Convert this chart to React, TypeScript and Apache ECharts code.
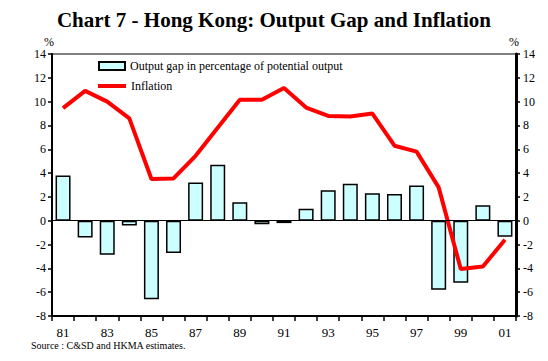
import React, { useEffect, useRef } from "react";
import * as echarts from "echarts";

const years = ["81","82","83","84","85","86","87","88","89","90","91","92","93","94","95","96","97","98","99","00","01"];
const outputGap = [3.8, -1.4, -2.85, -0.4, -6.6, -2.7, 3.2, 4.7, 1.55, -0.3, -0.2, 1.0, 2.55, 3.1, 2.3, 2.25, 2.95, -5.8, -5.2, 1.3, -1.35];
const inflation = [9.45, 10.9, 10.0, 8.6, 3.5, 3.55, 5.45, 7.8, 10.15, 10.15, 11.15, 9.5, 8.8, 8.75, 9.0, 6.3, 5.8, 2.8, -4.05, -3.85, -1.6];
const gapName = "Output gap in percentage of potential output";
const inflName = "Inflation";
const titleText = "Chart 7 - Hong Kong: Output Gap and Inflation";
const sourceText = "Source : C&SD and HKMA estimates.";

const FONT = "'Liberation Serif', 'Times New Roman', serif";

export default function App() {
  const ref = useRef<HTMLDivElement>(null);
  useEffect(() => {
    if (!ref.current) return;
    const chart = echarts.init(ref.current, undefined, { renderer: "svg" });
    const axisLabel = { fontFamily: FONT, fontSize: 12, color: "#000" };
    chart.setOption({
      animation: false,
      backgroundColor: "#fff",
      title: {
        text: titleText,
        left: "center",
        top: 4,
        textStyle: { fontFamily: FONT, fontSize: 21, fontWeight: "bold", color: "#000" },
      },
      grid: {
        left: 52, right: 32, top: 54, bottom: 45,
        show: true, borderColor: "#808080", borderWidth: 2, backgroundColor: "transparent",
      },
      legend: [
        {
          data: [{ name: gapName, icon: "rect" }],
          left: 98, top: 59, padding: 0, itemWidth: 26, itemHeight: 8,
          textStyle: { fontFamily: FONT, fontSize: 12, color: "#000", lineHeight: 14 },
        },
        {
          data: [{ name: inflName, icon: "rect", itemStyle: { color: "#FF0000", borderWidth: 0 } }],
          left: 98, top: 79, padding: 0, itemWidth: 28, itemHeight: 4,
          textStyle: { fontFamily: FONT, fontSize: 12, color: "#000", lineHeight: 14 },
        },
      ],
      xAxis: {
        type: "category",
        data: years,
        boundaryGap: true,
        axisLine: { show: true, onZero: false, lineStyle: { color: "#000", width: 2 } },
        axisTick: { show: true, interval: 0, length: 5, lineStyle: { color: "#000", width: 1.5 } },
        axisLabel: { ...axisLabel, fontSize: 13, interval: 1, margin: 10 },
        splitLine: { show: false },
      },
      yAxis: [
        {
          type: "value", min: -8, max: 14, interval: 2, position: "left",
          axisLine: { show: true, lineStyle: { color: "#000", width: 2 } },
          axisTick: { show: true, length: 4, lineStyle: { color: "#000", width: 1.5 } },
          axisLabel: { ...axisLabel, margin: 6 },
          splitLine: { show: false },
        },
        {
          type: "value", min: -8, max: 14, interval: 2, position: "right",
          axisLine: { show: true, lineStyle: { color: "#000", width: 3 } },
          axisTick: { show: true, length: 4, lineStyle: { color: "#000", width: 1.5 } },
          axisLabel: { ...axisLabel, margin: 7 },
          splitLine: { show: false },
        },
      ],
      graphic: [
        { type: "text", left: 44, top: 36, style: { text: "%", font: `12px ${FONT}`, fill: "#000" } },
        { type: "text", left: 509, top: 36, style: { text: "%", font: `12px ${FONT}`, fill: "#000" } },
        { type: "text", left: 31, top: 340, style: { text: sourceText, font: `10px ${FONT}`, fill: "#000" } },
      ],
      series: [
        {
          name: gapName,
          type: "bar",
          data: outputGap,
          barWidth: 15,
          itemStyle: { color: "#CCFFFF", borderColor: "#000", borderWidth: 1.5 },
          markLine: {
            silent: true, symbol: "none", label: { show: false },
            lineStyle: { color: "#000", width: 1, type: "solid" },
            data: [{ yAxis: 0 }],
          },
          z: 2,
        },
        {
          name: inflName,
          type: "line",
          data: inflation,
          symbol: "none",
          lineStyle: { color: "#FF0000", width: 4 },
          itemStyle: { color: "#FF0000" },
          z: 3,
        },
      ],
    });
    return () => chart.dispose();
  }, []);
  return (
    <div
      ref={ref}
      style={{ position: "fixed", left: 0, top: 0, width: 548, height: 361, background: "#fff" }}
    />
  );
}
